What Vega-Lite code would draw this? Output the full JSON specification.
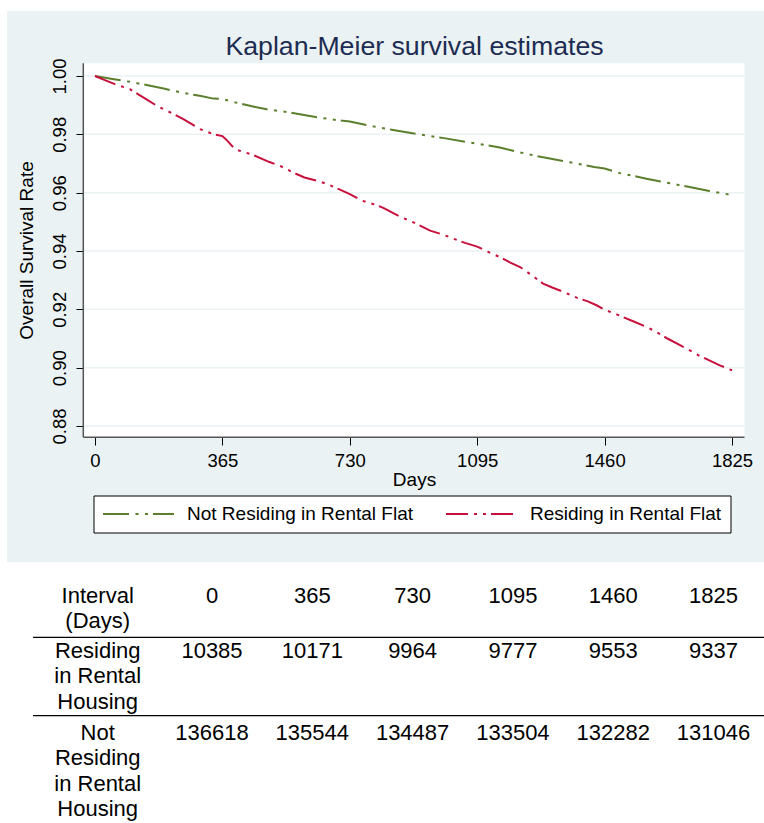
{
  "$schema": "https://vega.github.io/schema/vega-lite/v6.json",
  "background": "white",
  "padding": {"left": 7, "top": 11, "right": 0, "bottom": 0},
  "spacing": 0,
  "config": {
    "font": "Liberation Sans",
    "view": {"stroke": null},
    "axis": {"labelFont": "Liberation Sans", "titleFont": "Liberation Sans", "labelColor": "black", "titleColor": "black", "tickColor": "black", "titleFontWeight": "normal"}
  },
  "vconcat": [
    {
      "width": 757,
      "height": 551,
      "view": {"fill": "#EAF2F3", "stroke": null},
      "title": {
        "text": "Kaplan-Meier survival estimates",
        "font": "Liberation Sans",
        "fontSize": 26.7,
        "fontWeight": "normal",
        "color": "#1D2C52",
        "anchor": "middle",
        "frame": "group",
        "baseline": "alphabetic",
        "offset": -71,
        "dx": 29
      },
      "data": {
        "values": [
          {"group": "Not Residing in Rental Flat", "day": 0, "s": 1.0},
          {"group": "Not Residing in Rental Flat", "day": 50, "s": 0.999},
          {"group": "Not Residing in Rental Flat", "day": 100, "s": 0.998},
          {"group": "Not Residing in Rental Flat", "day": 148, "s": 0.9969},
          {"group": "Not Residing in Rental Flat", "day": 200, "s": 0.9956},
          {"group": "Not Residing in Rental Flat", "day": 250, "s": 0.9943},
          {"group": "Not Residing in Rental Flat", "day": 300, "s": 0.9932},
          {"group": "Not Residing in Rental Flat", "day": 339, "s": 0.99225},
          {"group": "Not Residing in Rental Flat", "day": 365, "s": 0.99214},
          {"group": "Not Residing in Rental Flat", "day": 400, "s": 0.991},
          {"group": "Not Residing in Rental Flat", "day": 450, "s": 0.9896},
          {"group": "Not Residing in Rental Flat", "day": 492, "s": 0.9886},
          {"group": "Not Residing in Rental Flat", "day": 540, "s": 0.9878},
          {"group": "Not Residing in Rental Flat", "day": 587, "s": 0.9869},
          {"group": "Not Residing in Rental Flat", "day": 640, "s": 0.9858},
          {"group": "Not Residing in Rental Flat", "day": 680, "s": 0.9851},
          {"group": "Not Residing in Rental Flat", "day": 711, "s": 0.98462},
          {"group": "Not Residing in Rental Flat", "day": 730, "s": 0.98441},
          {"group": "Not Residing in Rental Flat", "day": 788, "s": 0.9829},
          {"group": "Not Residing in Rental Flat", "day": 850, "s": 0.9816},
          {"group": "Not Residing in Rental Flat", "day": 922, "s": 0.9801},
          {"group": "Not Residing in Rental Flat", "day": 1000, "s": 0.9787},
          {"group": "Not Residing in Rental Flat", "day": 1074, "s": 0.9772},
          {"group": "Not Residing in Rental Flat", "day": 1103, "s": 0.97665},
          {"group": "Not Residing in Rental Flat", "day": 1160, "s": 0.9755},
          {"group": "Not Residing in Rental Flat", "day": 1218, "s": 0.9738},
          {"group": "Not Residing in Rental Flat", "day": 1280, "s": 0.9722},
          {"group": "Not Residing in Rental Flat", "day": 1361, "s": 0.9704},
          {"group": "Not Residing in Rental Flat", "day": 1430, "s": 0.9688},
          {"group": "Not Residing in Rental Flat", "day": 1460, "s": 0.96827},
          {"group": "Not Residing in Rental Flat", "day": 1504, "s": 0.9667},
          {"group": "Not Residing in Rental Flat", "day": 1580, "s": 0.9648},
          {"group": "Not Residing in Rental Flat", "day": 1647, "s": 0.9632},
          {"group": "Not Residing in Rental Flat", "day": 1700, "s": 0.962},
          {"group": "Not Residing in Rental Flat", "day": 1760, "s": 0.9606},
          {"group": "Not Residing in Rental Flat", "day": 1825, "s": 0.9592},
          {"group": "Residing in Rental Flat", "day": 0, "s": 1.0},
          {"group": "Residing in Rental Flat", "day": 30, "s": 0.9985},
          {"group": "Residing in Rental Flat", "day": 57, "s": 0.9972},
          {"group": "Residing in Rental Flat", "day": 100, "s": 0.9955},
          {"group": "Residing in Rental Flat", "day": 124, "s": 0.9937},
          {"group": "Residing in Rental Flat", "day": 150, "s": 0.9918},
          {"group": "Residing in Rental Flat", "day": 181, "s": 0.9895},
          {"group": "Residing in Rental Flat", "day": 220, "s": 0.9873},
          {"group": "Residing in Rental Flat", "day": 253, "s": 0.9852},
          {"group": "Residing in Rental Flat", "day": 301, "s": 0.9818},
          {"group": "Residing in Rental Flat", "day": 340, "s": 0.98},
          {"group": "Residing in Rental Flat", "day": 365, "s": 0.9794},
          {"group": "Residing in Rental Flat", "day": 377, "s": 0.9781},
          {"group": "Residing in Rental Flat", "day": 401, "s": 0.9749},
          {"group": "Residing in Rental Flat", "day": 430, "s": 0.9738},
          {"group": "Residing in Rental Flat", "day": 454, "s": 0.9729},
          {"group": "Residing in Rental Flat", "day": 500, "s": 0.9705},
          {"group": "Residing in Rental Flat", "day": 530, "s": 0.9692},
          {"group": "Residing in Rental Flat", "day": 568, "s": 0.9669},
          {"group": "Residing in Rental Flat", "day": 600, "s": 0.9652},
          {"group": "Residing in Rental Flat", "day": 635, "s": 0.9641},
          {"group": "Residing in Rental Flat", "day": 665, "s": 0.963},
          {"group": "Residing in Rental Flat", "day": 697, "s": 0.9613},
          {"group": "Residing in Rental Flat", "day": 730, "s": 0.9595},
          {"group": "Residing in Rental Flat", "day": 764, "s": 0.9573},
          {"group": "Residing in Rental Flat", "day": 800, "s": 0.956},
          {"group": "Residing in Rental Flat", "day": 826, "s": 0.9548},
          {"group": "Residing in Rental Flat", "day": 870, "s": 0.952},
          {"group": "Residing in Rental Flat", "day": 922, "s": 0.9493},
          {"group": "Residing in Rental Flat", "day": 960, "s": 0.947},
          {"group": "Residing in Rental Flat", "day": 1000, "s": 0.9455},
          {"group": "Residing in Rental Flat", "day": 1027, "s": 0.9442},
          {"group": "Residing in Rental Flat", "day": 1060, "s": 0.9428},
          {"group": "Residing in Rental Flat", "day": 1095, "s": 0.9415},
          {"group": "Residing in Rental Flat", "day": 1130, "s": 0.9395},
          {"group": "Residing in Rental Flat", "day": 1160, "s": 0.9379},
          {"group": "Residing in Rental Flat", "day": 1190, "s": 0.936},
          {"group": "Residing in Rental Flat", "day": 1218, "s": 0.9345},
          {"group": "Residing in Rental Flat", "day": 1250, "s": 0.9318},
          {"group": "Residing in Rental Flat", "day": 1284, "s": 0.9288},
          {"group": "Residing in Rental Flat", "day": 1310, "s": 0.9275},
          {"group": "Residing in Rental Flat", "day": 1342, "s": 0.926},
          {"group": "Residing in Rental Flat", "day": 1380, "s": 0.924},
          {"group": "Residing in Rental Flat", "day": 1410, "s": 0.9228},
          {"group": "Residing in Rental Flat", "day": 1437, "s": 0.9214},
          {"group": "Residing in Rental Flat", "day": 1460, "s": 0.9199},
          {"group": "Residing in Rental Flat", "day": 1500, "s": 0.918},
          {"group": "Residing in Rental Flat", "day": 1540, "s": 0.916},
          {"group": "Residing in Rental Flat", "day": 1575, "s": 0.9142},
          {"group": "Residing in Rental Flat", "day": 1600, "s": 0.9128},
          {"group": "Residing in Rental Flat", "day": 1640, "s": 0.91},
          {"group": "Residing in Rental Flat", "day": 1676, "s": 0.9077},
          {"group": "Residing in Rental Flat", "day": 1700, "s": 0.9062},
          {"group": "Residing in Rental Flat", "day": 1728, "s": 0.9043},
          {"group": "Residing in Rental Flat", "day": 1760, "s": 0.9025},
          {"group": "Residing in Rental Flat", "day": 1790, "s": 0.9008},
          {"group": "Residing in Rental Flat", "day": 1825, "s": 0.8991}
        ]
      },
      "layer": [
        {
          "data": {"values": [{}]},
          "mark": {"type": "rect", "fill": "white"},
          "encoding": {
            "x": {"datum": -33.5, "type": "quantitative", "title": "Days", "scale": {"domain": [-252.1, 1916.7], "nice": false, "zero": false}},
            "x2": {"datum": 1860.8},
            "y": {"datum": 0.87613, "type": "quantitative", "title": "Overall Survival Rate", "scale": {"domain": [0.83337, 1.02229], "nice": false, "zero": false}},
            "y2": {"datum": 1.00435}
          }
        },
        {
          "data": {"values": [{"g": 0.88}, {"g": 0.9}, {"g": 0.92}, {"g": 0.94}, {"g": 0.96}, {"g": 0.98}, {"g": 1.0}]},
          "mark": {"type": "rule", "color": "#EAF2F3", "strokeWidth": 1.5},
          "encoding": {
            "y": {"field": "g", "type": "quantitative", "title": "Overall Survival Rate", "scale": {"domain": [0.83337, 1.02229], "nice": false, "zero": false}},
            "x": {"datum": -33.5, "type": "quantitative", "title": "Days", "scale": {"domain": [-252.1, 1916.7], "nice": false, "zero": false}},
            "x2": {"datum": 1860.8}
          }
        },
        {
          "mark": {"type": "line", "strokeWidth": 2},
          "encoding": {
            "x": {
              "field": "day", "type": "quantitative", "title": "Days",
              "scale": {"domain": [-252.1, 1916.7], "nice": false, "zero": false},
              "axis": {
                "title": "Days", "values": [0, 365, 730, 1095, 1460, 1825], "format": "d",
                "offset": -125, "domain": false, "grid": false, "tickSize": 8, "tickWidth": 1,
                "labelFontSize": 18.5, "labelPadding": 6, "labelFlush": false, "labelOverlap": false,
                "titleFontSize": 19, "titlePadding": 1, "titleX": 407
              }
            },
            "y": {
              "field": "s", "type": "quantitative", "title": "Overall Survival Rate",
              "scale": {"domain": [0.83337, 1.02229], "nice": false, "zero": false},
              "axis": {
                "title": "Overall Survival Rate", "values": [0.88, 0.9, 0.92, 0.94, 0.96, 0.98, 1.0], "format": ".2f",
                "offset": -76, "domain": false, "grid": false, "tickSize": 7, "tickWidth": 1,
                "labelAngle": 270, "labelAlign": "center", "labelBaseline": "bottom", "labelPadding": 7,
                "labelFontSize": 18.5, "labelFlush": false, "labelOverlap": false,
                "titleFontSize": 19, "titlePadding": 14, "titleY": 239
              }
            },
            "color": {
              "field": "group", "type": "nominal",
              "scale": {"domain": ["Not Residing in Rental Flat", "Residing in Rental Flat"], "range": ["#5B7F2C", "#C8103C"]},
              "legend": {
                "title": null, "orient": "none", "legendX": 86.5, "legendY": 484.5, "direction": "horizontal",
                "symbolType": "stroke", "symbolSize": 5041, "symbolStrokeWidth": 2, "clipHeight": 20,
                "labelFontSize": 19, "labelFont": "Liberation Sans", "labelColor": "black", "labelOffset": 12, "labelLimit": 400,
                "columnPadding": 32, "padding": 8.5, "strokeColor": "black", "fillColor": "white", "cornerRadius": 0
              }
            },
            "strokeDash": {
              "field": "group", "type": "nominal",
              "scale": {"domain": ["Not Residing in Rental Flat", "Residing in Rental Flat"], "range": [[26, 6.5, 3, 6.5, 3, 5], [22, 6, 3, 6, 3, 5]]},
              "legend": {
                "title": null, "orient": "none", "legendX": 86.5, "legendY": 484.5, "direction": "horizontal",
                "symbolType": "stroke", "symbolSize": 5041, "symbolStrokeWidth": 2, "clipHeight": 20,
                "labelFontSize": 19, "labelFont": "Liberation Sans", "labelColor": "black", "labelOffset": 12, "labelLimit": 400,
                "columnPadding": 32, "padding": 8.5, "strokeColor": "black", "fillColor": "white", "cornerRadius": 0
              }
            }
          }
        },
        {
          "data": {"values": [{}]},
          "mark": {"type": "rule", "color": "#555555", "strokeWidth": 1.5},
          "encoding": {
            "x": {"datum": -33.5, "type": "quantitative", "title": "Days", "scale": {"domain": [-252.1, 1916.7], "nice": false, "zero": false}},
            "y": {"datum": 0.87613, "type": "quantitative", "title": "Overall Survival Rate", "scale": {"domain": [0.83337, 1.02229], "nice": false, "zero": false}},
            "y2": {"datum": 1.00435}
          }
        },
        {
          "data": {"values": [{}]},
          "mark": {"type": "rule", "color": "#555555", "strokeWidth": 1.5},
          "encoding": {
            "x": {"datum": -33.5, "type": "quantitative", "title": "Days", "scale": {"domain": [-252.1, 1916.7], "nice": false, "zero": false}},
            "x2": {"datum": 1860.8},
            "y": {"datum": 0.87613, "type": "quantitative", "title": "Overall Survival Rate", "scale": {"domain": [0.83337, 1.02229], "nice": false, "zero": false}}
          }
        }
      ]
    },
    {
      "width": 757,
      "height": 261,
      "view": {"stroke": null},
      "layer": [
        {
          "data": {"values": [{"line": 1.88}, {"line": 4.74}]},
          "mark": {"type": "rule", "color": "black", "strokeWidth": 1.2},
          "encoding": {
            "y": {"field": "line", "type": "quantitative", "scale": {"domain": [-0.871, 8.661], "nice": false, "zero": false, "reverse": true}, "axis": null},
            "x": {"datum": -0.785, "type": "quantitative", "scale": {"domain": [-1.0439, 6.5035], "nice": false, "zero": false}, "axis": null},
            "x2": {"datum": 6.5035}
          }
        },
        {
          "data": {
            "values": [
              {"col": 0, "line": 0, "text": "Interval\n(Days)"},
              {"col": 0, "line": 2, "text": "Residing\nin Rental\nHousing"},
              {"col": 0, "line": 5, "text": "Not\nResiding\nin Rental\nHousing"}
            ]
          },
          "mark": {"type": "text", "align": "center", "baseline": "top", "lineBreak": "\n", "lineHeight": 25.5, "fontSize": 22, "font": "Liberation Sans", "color": "black", "dx": -14},
          "encoding": {
            "x": {"field": "col", "type": "quantitative", "scale": {"domain": [-1.0439, 6.5035], "nice": false, "zero": false}, "axis": null},
            "y": {"field": "line", "type": "quantitative", "scale": {"domain": [-0.871, 8.661], "nice": false, "zero": false, "reverse": true}, "axis": null},
            "text": {"field": "text"}
          }
        },
        {
          "data": {
            "values": [
              {"col": 1, "line": 0, "text": "0"},
              {"col": 2, "line": 0, "text": "365"},
              {"col": 3, "line": 0, "text": "730"},
              {"col": 4, "line": 0, "text": "1095"},
              {"col": 5, "line": 0, "text": "1460"},
              {"col": 6, "line": 0, "text": "1825"},
              {"col": 1, "line": 2, "text": "10385"},
              {"col": 2, "line": 2, "text": "10171"},
              {"col": 3, "line": 2, "text": "9964"},
              {"col": 4, "line": 2, "text": "9777"},
              {"col": 5, "line": 2, "text": "9553"},
              {"col": 6, "line": 2, "text": "9337"},
              {"col": 1, "line": 5, "text": "136618"},
              {"col": 2, "line": 5, "text": "135544"},
              {"col": 3, "line": 5, "text": "134487"},
              {"col": 4, "line": 5, "text": "133504"},
              {"col": 5, "line": 5, "text": "132282"},
              {"col": 6, "line": 5, "text": "131046"}
            ]
          },
          "mark": {"type": "text", "align": "center", "baseline": "top", "fontSize": 22, "font": "Liberation Sans", "color": "black"},
          "encoding": {
            "x": {"field": "col", "type": "quantitative", "scale": {"domain": [-1.0439, 6.5035], "nice": false, "zero": false}, "axis": null},
            "y": {"field": "line", "type": "quantitative", "scale": {"domain": [-0.871, 8.661], "nice": false, "zero": false, "reverse": true}, "axis": null},
            "text": {"field": "text"}
          }
        }
      ]
    }
  ]
}
